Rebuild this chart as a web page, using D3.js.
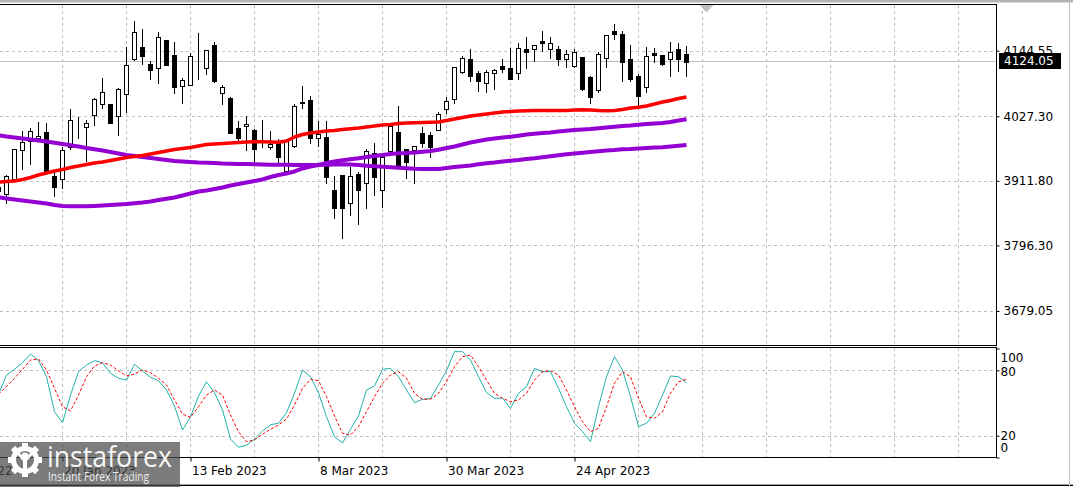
<!DOCTYPE html>
<html><head><meta charset="utf-8">
<script src="https://cdn.jsdelivr.net/npm/d3@7"></script>
<style>
html,body{margin:0;padding:0;background:#fff;overflow:hidden;}
svg{display:block;font-family:"DejaVu Sans",sans-serif;}
</style></head><body>
<svg id="c" width="1073" height="487"></svg>
<script>
// ---- data (bar index starts at -1; last bar = 85) ----
const firstBar = -1;
const opens  = [3900.8,3887.4,3915.1,3966.1,3983.1,3987.9,3998.6,3920.5,3914.6,3972.9,4018.9,4007.6,4028.7,4050.1,4049.2,4026.9,4067.7,4130.1,4150.8,4120.4,4114.5,4163.7,4136.9,4081.1,4083.6,4138.6,4113.1,4154.7,4068.4,4060.0,4006.0,4009.4,4002.8,3983.1,3971.8,3978.6,3928.6,3973.6,4051.6,4056.4,3987.9,3990.6,3895.5,3921.9,3871.7,3924.1,3907.5,3961.6,3894.6,3965.7,3998.8,3968.3,3966.1,3997.0,3993.5,4002.4,4039.4,4058.7,4105.9,4129.7,4104.1,4087.3,4104.1,4117.2,4114.0,4103.8,4147.9,4147.1,4162.4,4147.1,4147.1,4129.2,4117.7,4132.9,4097.9,4074.6,4131.0,4179.8,4174.4,4129.3,4099.3,4080.5,4140.4,4136.5,4129.2,4147.2,4138.6];
const highs  = [3904.4,3922.3,3968.8,4001.0,4005.8,4016.7,4014.7,3927.7,3971.5,4040.0,4026.5,4020.3,4060.3,4095.7,4050.1,4078.2,4150.8,4197.7,4183.3,4125.8,4178.0,4164.2,4159.7,4095.7,4141.0,4176.2,4145.8,4160.5,4083.8,4062.3,4019.2,4028.3,4005.4,4020.6,4000.6,3987.2,3986.7,4049.6,4081.4,4064.1,4018.5,4018.5,3919.6,3922.3,3936.2,3926.8,3968.8,3979.5,3955.4,4013.5,4045.7,3968.8,3974.2,4008.5,3999.2,4034.9,4062.1,4115.4,4134.7,4147.2,4108.2,4109.5,4111.8,4129.2,4150.0,4158.0,4168.5,4154.7,4180.1,4168.7,4153.0,4145.8,4147.1,4133.3,4099.3,4141.7,4172.6,4191.9,4180.1,4154.7,4102.9,4150.6,4149.9,4136.9,4161.0,4157.8,4153.0];
const lows   = [3890.1,3871.3,3912.5,3933.0,3942.0,3983.1,3924.1,3884.8,3899.1,3968.8,3989.0,3947.9,4011.7,4042.1,4014.7,3994.2,4034.9,4127.9,4121.1,4093.1,4087.3,4118.1,4069.5,4051.9,4083.2,4094.5,4103.2,4089.1,4048.4,3996.5,3983.1,3967.4,3944.6,3972.9,3968.3,3946.1,3927.7,3972.4,4041.6,3980.1,3974.2,3907.5,3844.9,3810.2,3850.8,3834.7,3863.3,3886.5,3865.1,3963.4,3936.6,3917.5,3907.5,3972.7,3953.6,4001.9,4033.7,4051.6,4104.7,4090.0,4072.5,4071.2,4075.5,4106.1,4093.9,4094.5,4114.5,4126.5,4144.5,4131.0,4118.1,4115.9,4115.9,4074.6,4051.9,4071.1,4115.9,4165.8,4090.9,4090.9,4047.5,4071.2,4124.9,4119.0,4099.7,4108.8,4099.7];
const closes = [3893.7,3919.6,3968.3,3981.8,4001.0,3992.0,3926.8,3901.4,3967.0,4020.1,4019.4,4014.7,4057.8,4070.2,4015.6,4075.7,4118.4,4177.4,4135.6,4110.6,4168.7,4119.5,4080.5,4091.8,4135.1,4138.0,4145.4,4090.9,4079.3,3997.8,3987.6,4013.5,3968.3,3983.6,3977.4,3955.0,3984.9,4045.7,4052.2,3987.6,3995.2,3919.3,3862.4,3863.8,3920.2,3895.8,3965.6,3917.8,3954.1,4009.4,3938.7,3946.1,3973.8,3978.6,3972.9,4031.4,4054.3,4114.9,4131.0,4099.8,4090.9,4106.5,4109.7,4112.4,4094.5,4149.0,4143.1,4154.4,4158.9,4158.0,4129.2,4138.3,4141.7,4076.4,4060.9,4138.3,4172.3,4175.3,4124.9,4094.3,4062.7,4134.7,4137.4,4120.8,4141.7,4130.2,4124.05];

const maRed     = [3909.4,3910.7,3911.6,3914.3,3917.8,3922.3,3925.9,3929.5,3932.1,3935.7,3938.4,3941.1,3943.8,3945.5,3948.2,3950.9,3953.6,3955.4,3957.2,3959.8,3962.5,3965.2,3967.9,3969.7,3971.5,3974.2,3976.8,3977.7,3978.6,3979.5,3980.4,3981.3,3981.8,3981.8,3981.3,3980.8,3983.1,3990.2,3994.7,3997.4,3999.2,4001.0,4001.9,4003.7,4005.1,4006.3,4008.1,4009.9,4011.7,4012.6,4014.4,4015.3,4015.8,4016.2,4016.5,4017.1,4019.7,4022.4,4025.1,4027.8,4029.6,4031.4,4033.2,4034.9,4035.8,4036.7,4037.3,4037.6,4037.6,4037.6,4037.6,4037.6,4038.5,4039.1,4038.5,4037.6,4037.3,4037.6,4039.4,4042.1,4043.3,4045.7,4049.2,4052.8,4055.5,4059.1,4061.8];
const maVioletA = [3993.5,3991.1,3989.3,3987.6,3985.8,3984.0,3982.2,3980.1,3977.7,3975.4,3973.3,3970.6,3968.3,3966.1,3963.4,3960.7,3958.1,3956.3,3954.5,3952.7,3950.9,3949.1,3947.3,3946.4,3945.5,3944.6,3944.3,3943.8,3942.9,3942.5,3942.0,3942.0,3941.4,3941.1,3940.7,3940.7,3940.7,3940.2,3940.2,3940.2,3940.2,3940.5,3941.1,3941.4,3941.1,3940.2,3938.9,3937.9,3937.1,3936.2,3935.2,3934.3,3933.4,3933.0,3933.0,3933.0,3934.8,3936.6,3938.0,3939.3,3941.4,3943.2,3944.6,3946.4,3947.9,3949.1,3950.9,3952.2,3953.9,3955.7,3957.5,3959.3,3960.7,3962.2,3963.4,3964.7,3966.1,3967.0,3968.3,3968.8,3969.7,3970.6,3971.5,3972.0,3973.3,3974.5,3975.9];
const maVioletB = [3882.2,3880.3,3878.5,3876.7,3874.9,3873.1,3871.3,3868.7,3866.9,3866.3,3866.3,3866.3,3866.9,3867.8,3868.7,3869.6,3870.4,3871.7,3873.1,3874.9,3877.6,3879.9,3882.1,3885.6,3889.2,3892.8,3894.6,3897.3,3899.9,3903.5,3906.2,3908.9,3911.6,3914.3,3918.7,3922.3,3925.0,3928.6,3933.9,3937.5,3940.2,3943.8,3946.4,3948.6,3950.4,3952.2,3954.5,3956.3,3958.1,3959.8,3961.1,3961.6,3962.5,3963.8,3965.2,3967.4,3970.6,3973.3,3976.8,3980.4,3983.1,3985.8,3987.6,3989.3,3990.8,3992.6,3994.7,3996.0,3997.4,3998.3,4000.1,4001.5,4002.8,4003.7,4004.5,4005.8,4007.2,4008.7,4009.9,4010.8,4012.1,4013.5,4014.4,4015.3,4017.1,4019.7,4021.9];

const stochMain   = [58,75.7,81,87,95,88.8,74.1,42,31.9,57.3,78.7,84.9,88.8,87,77.2,72.7,71.1,85.5,79.4,73.6,70.5,61.9,47.2,25.2,37.4,56.4,69.5,59.5,43.6,17,9.4,11.2,17,24.3,30.1,31.4,41.1,58.9,80.3,74.1,59.5,37.4,19.1,13.3,25.9,38.2,61.9,65.6,80.9,81.8,74.1,61.9,50.3,53.4,54.3,66.5,79.6,97.1,97.1,89.4,74.1,59.5,54.3,54.5,45.1,58.9,65,81.8,78.7,78.7,63.5,46.6,31.4,23.7,14.5,46.6,74.1,92.5,80.3,55.8,28.3,31.4,40.5,57.3,74.8,74.1,68.6];
const stochSignal = [58,65,72.7,80.9,89.4,90.4,80.3,63.5,46.6,42.7,57.3,74.1,83.9,87,84.9,79.6,74.8,76.6,80.3,77.8,72.7,66.5,52.8,39.9,36.9,46.6,57.3,61.9,57.3,39,23.7,14.5,16.1,21.3,25.9,29.8,35.3,48.2,63.5,71.7,70.5,55.8,38.1,22.2,20.6,28.3,42,55.8,68.1,75.7,78.7,72.7,58.9,53.4,53.4,58.9,69.5,83.3,92.5,94,83.3,71.1,58.9,54.3,51.2,52.8,58.9,71.1,78.7,79.6,75.7,61.9,46.6,32.8,23.7,26.8,46.6,68.1,78.7,74.1,54.3,37.4,36,42,58.9,69.5,71.7];

const priceTicks = [4144.55,4027.30,3911.80,3796.30,3679.05];
const lastPrice = 4124.05;
const stochLevels = [100,80,20,0];
const stochGridLevels = [80,20];
const dateTickIndex  = [-9,7,23,39,55,71];
const dateTickLabels = ["29 Dec 2022","20 Jan 2023","13 Feb 2023","8 Mar 2023","30 Mar 2023","24 Apr 2023"];

// ---- layout ----
const svg = d3.select("#c");
const plotRight = 996.5, mainTop = 4.5, mainBottom = 345.5, subTop = 347.5, subBottom = 457.5;
const x  = d3.scaleLinear().domain([0, 85]).range([6.5, 686.5]);
const y  = d3.scaleLinear().domain([3679.05, 4144.55]).range([311, 50.7]);
const ys = d3.scaleLinear().domain([0, 100]).range([457.5, 348.5]);
const bars = opens.map((o, i) => ({i: i + firstBar, o, h: highs[i], l: lows[i], c: closes[i]}));
const grid = "#c0c0c0";

svg.append("rect").attr("width",1073).attr("height",487).attr("fill","#fff");
const defs = svg.append("defs");
defs.append("clipPath").attr("id","cm").append("rect").attr("x",0).attr("y",mainTop+0.5).attr("width",plotRight).attr("height",mainBottom-mainTop-1);
defs.append("clipPath").attr("id","cs").append("rect").attr("x",0).attr("y",subTop+0.5).attr("width",plotRight).attr("height",subBottom-subTop-1);

// vertical grid (every 8 bars)
const vGrid = d3.range(0, 15).map(j => x(7 + 8*j));
const gg = svg.append("g").attr("stroke",grid).attr("stroke-dasharray","3,3").attr("shape-rendering","crispEdges");
vGrid.forEach(v => {
  gg.append("line").attr("x1",v).attr("x2",v).attr("y1",mainTop).attr("y2",mainBottom);
  gg.append("line").attr("x1",v).attr("x2",v).attr("y1",subTop).attr("y2",subBottom);
});
priceTicks.forEach(p => { const yy = Math.round(y(p)) + 0.5;
  gg.append("line").attr("x1",0).attr("x2",plotRight).attr("y1",yy).attr("y2",yy); });
stochGridLevels.forEach(v => { const yy = Math.round(ys(v)) + 0.5;
  gg.append("line").attr("x1",0).attr("x2",plotRight).attr("y1",yy).attr("y2",yy); });

// current price line
const yLast = Math.round(y(lastPrice)) - 0.5;
svg.append("line").attr("x1",0).attr("x2",plotRight).attr("y1",yLast).attr("y2",yLast)
  .attr("stroke",grid).attr("shape-rendering","crispEdges");

// candles
const cg = svg.append("g").attr("clip-path","url(#cm)").attr("shape-rendering","crispEdges");
cg.selectAll("line.w").data(bars).join("line").attr("class","w")
  .attr("x1",d=>x(d.i)).attr("x2",d=>x(d.i))
  .attr("y1",d=>Math.round(y(d.h))).attr("y2",d=>Math.round(y(d.l))+1)
  .attr("stroke","#000");
cg.selectAll("rect.b").data(bars).join("rect").attr("class","b")
  .attr("x",d=>x(d.i)-2).attr("width",4)
  .attr("y",d=>Math.round(y(Math.max(d.o,d.c)))+0.5)
  .attr("height",d=>Math.round(y(Math.min(d.o,d.c))) - Math.round(y(Math.max(d.o,d.c))))
  .attr("fill",d=>d.c>=d.o?"#fff":"#000").attr("stroke","#000");

// moving averages
const maLine = d3.line().x((d,i)=>x(i+firstBar)).y(d=>y(d));
const mg = svg.append("g").attr("clip-path","url(#cm)").attr("fill","none").attr("stroke-linejoin","round");
mg.append("path").attr("d",maLine(maVioletA)).attr("stroke","#9400d3").attr("stroke-width",4);
mg.append("path").attr("d",maLine(maVioletB)).attr("stroke","#9400d3").attr("stroke-width",4);
mg.append("path").attr("d",maLine(maRed)).attr("stroke","#ff0000").attr("stroke-width",3.5);

// stochastic
const stLine = d3.line().x((d,i)=>x(i+firstBar)).y(d=>ys(d));
const sg = svg.append("g").attr("clip-path","url(#cs)").attr("fill","none");
sg.append("path").attr("d",stLine(stochMain)).attr("stroke","#20b2aa").attr("stroke-width",1);
sg.append("path").attr("d",stLine(stochSignal)).attr("stroke","#ff0000").attr("stroke-width",1).attr("stroke-dasharray","3,2");

// frames
const fr = svg.append("g").attr("stroke","#000").attr("shape-rendering","crispEdges");
svg.insert("rect",":first-child");
svg.append("rect").attr("x",0).attr("y",0).attr("width",1073).attr("height",2.5).attr("fill","#b4b4b4");
fr.append("line").attr("x1",0).attr("x2",plotRight).attr("y1",mainTop).attr("y2",mainTop);
fr.append("line").attr("x1",0).attr("x2",plotRight).attr("y1",mainBottom).attr("y2",mainBottom);
fr.append("line").attr("x1",0).attr("x2",plotRight).attr("y1",subTop).attr("y2",subTop);
fr.append("line").attr("x1",0).attr("x2",plotRight).attr("y1",subBottom).attr("y2",subBottom);
fr.append("line").attr("x1",plotRight).attr("x2",plotRight).attr("y1",mainTop).attr("y2",mainBottom);
fr.append("line").attr("x1",plotRight).attr("x2",plotRight).attr("y1",subTop).attr("y2",subBottom);
svg.append("line").attr("x1",0).attr("x2",1073).attr("y1",484.5).attr("y2",484.5).attr("stroke","#a0a0a0");
svg.append("line").attr("x1",0).attr("x2",1073).attr("y1",485.5).attr("y2",485.5).attr("stroke","#000");
svg.append("line").attr("x1",1069.5).attr("x2",1069.5).attr("y1",0).attr("y2",487).attr("stroke","#c0c0c0");

// shift marker
svg.append("path").attr("d","M699.5,5 L713.5,5 L706.5,12.5 Z").attr("fill","#c0c0c0");

// price axis
const pa = svg.append("g").attr("transform",`translate(${plotRight},0)`)
  .call(d3.axisRight(y).tickValues(priceTicks).tickFormat(d3.format(".2f")).tickSize(3).tickPadding(4));
pa.select(".domain").remove();
pa.selectAll("text").attr("font-size",12).attr("font-family","DejaVu Sans").attr("fill","#000");
pa.selectAll("line").attr("stroke","#000");

// last price box
svg.append("rect").attr("x",999).attr("y",Math.round(y(lastPrice))-9).attr("width",62).attr("height",16).attr("fill","#000");
svg.append("text").attr("x",1004).attr("y",Math.round(y(lastPrice))-1).attr("dy","0.36em")
  .attr("font-size",12).attr("fill","#fff").text(d3.format(".2f")(lastPrice));

// stochastic axis
const labelShift = {100: 9.5, 80: 1.3, 20: 0.4, 0: -10};
const sa = svg.append("g").attr("transform",`translate(${plotRight},0)`)
  .call(d3.axisRight(ys).tickValues(stochLevels).tickFormat(d3.format("d")).tickSize(3).tickPadding(1));
sa.select(".domain").remove();
sa.selectAll("text").attr("font-size",12).attr("font-family","DejaVu Sans").attr("fill","#000")
  .attr("y", d => labelShift[d]);
sa.selectAll("line").attr("stroke","#000");

// date axis
const da = svg.append("g").attr("transform",`translate(0,${subBottom})`)
  .call(d3.axisBottom(x).tickValues(dateTickIndex).tickFormat((d,i)=>dateTickLabels[i]).tickSize(4));
da.select(".domain").remove();
da.selectAll("line").attr("stroke","#000");
da.selectAll("text").attr("font-size",12).attr("font-family","DejaVu Sans").attr("fill","#000")
  .attr("text-anchor","start").attr("x",1).attr("y",9).attr("dy","0.71em");

// watermark logo
const logo = svg.append("g");
logo.append("rect").attr("x",0).attr("y",442).attr("width",180).attr("height",45).attr("fill","#4a4a4a").attr("opacity",0.72);
const gear = logo.append("g").attr("transform","translate(25,460)").attr("fill","#fff");
for (let t = 0; t < 8; t++) {
  gear.append("rect").attr("x",-3).attr("y",-17).attr("width",6).attr("height",7)
    .attr("transform",`rotate(${t*45})`);
}
gear.append("circle").attr("r",11.5).attr("fill","none").attr("stroke","#fff").attr("stroke-width",5);
gear.append("circle").attr("cx",0).attr("cy",-4).attr("r",3.5);
gear.append("rect").attr("x",-2).attr("y",-1).attr("width",4).attr("height",16);
gear.append("path").attr("d","M-9,-7 L-2,1 L2,1 L9,-7 L7,-9 L0,-1 L-7,-9 Z");
logo.append("text").attr("x",47).attr("y",467).attr("font-family","Open Sans").attr("font-size",29)
  .attr("fill","#fff").attr("fill-opacity",0.95).attr("textLength",125).attr("lengthAdjust","spacingAndGlyphs").text("instaforex");
logo.append("text").attr("x",48).attr("y",481).attr("font-family","Open Sans").attr("font-size",13)
  .attr("fill","#fff").attr("fill-opacity",0.9).attr("textLength",101).attr("lengthAdjust","spacingAndGlyphs").text("Instant Forex Trading");
</script>
</body></html>
